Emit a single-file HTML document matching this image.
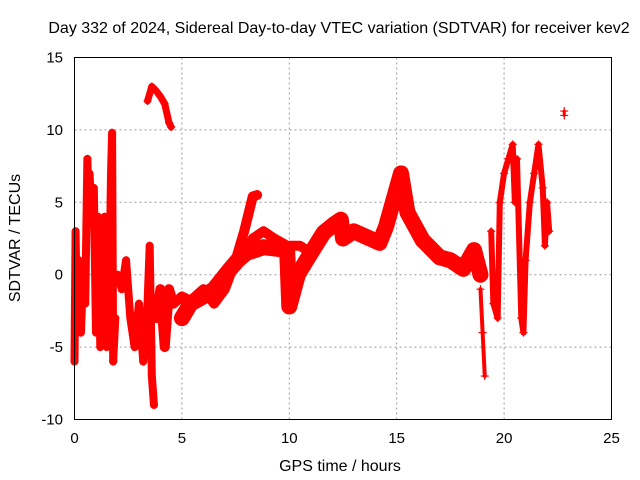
<!DOCTYPE html>
<html><head><meta charset="utf-8"><style>
body{margin:0;background:#fff;}
svg{display:block;font-family:"Liberation Sans",sans-serif;}
</style></head><body>
<svg id="chart" width="640" height="480" viewBox="0 0 640 480">
<rect width="640" height="480" fill="#fff"/>
<text x="339" y="33" font-size="16" text-anchor="middle" fill="#000">Day 332 of 2024, Sidereal Day-to-day VTEC variation (SDTVAR) for receiver kev2</text>
<text transform="translate(20,238) rotate(-90)" font-size="16" text-anchor="middle">SDTVAR / TECUs</text>
<text x="340" y="471" font-size="16" text-anchor="middle">GPS time / hours</text>
<g id="grid"></g><g id="ticks"></g><g id="marks"></g>
<rect x="74.5" y="57.5" width="537" height="362" fill="none" stroke="#000" stroke-width="1"/>
</svg>
<script>
const xTicks=[0,5,10,15,20,25];
const yTicks=[-10,-5,0,5,10,15];
const segTimes=[
[0,0.05,0.1,0.15,0.2,0.3,0.4,0.5,0.6,0.65,0.7,0.8,0.9,1.0,1.1,1.2,1.3,1.4,1.5,1.6,1.7,1.75,1.8,1.9],
[2.0,2.2,2.4,2.6,2.8,3.0,3.2,3.4,3.5,3.6,3.7],
[3.4,3.6,3.8,4.0,4.2,4.4,4.5],
[3.8,4.0,4.2,4.4,4.6,5.0,5.4,6.0,6.5,7.0,7.5,7.9,8.3,8.5],
[5,5.4,6,6.5,7.2,7.6,8,8.8,9.4,9.9,10.0,10.4,10.8,11.6,12.1,12.4,12.5,13.0,13.6,14.2,14.5,15.2,15.5,16.2,17.0,17.5,18.1,18.6,18.9],
[7.8,8.3,8.8,9.3,9.9,10.5,11],
[18.9,19.0,19.1],
[19.4,19.5,19.7,19.8,20,20.2,20.4,20.5,20.6,20.8,20.9,21,21.2,21.4,21.6,21.8,21.9,22.0,22.1],
[22.8,22.8]
];
const segValues=[
[-6,3,-2,-4,1,-4,0,-2,8,5,7,4,6,-4,4,-5,-3,4,-5,-3,7,9.8,-6,-3],
[0,-1,1,-3,-5,-2,-6,-2,2,-7,-9],
[12,13,12.7,12.3,11.8,10.5,10.2],
[-3,-1,-5,-1,-2,-1.5,-1.8,-1,-2,-1,1,3,5.4,5.5],
[-3,-2,-1.5,-1,0.3,1,1.5,1.9,1.8,1.7,-2.2,0,1.0,2.9,3.5,3.8,2.5,3,2.6,2.2,3.3,7.0,4.3,2.4,1.2,1.0,0.4,1.7,0],
[1,2.5,3,2.5,2,2,1.5],
[-1,-4,-7],
[3,-2,-3,5,7,8,9,5,8,-3,-4,1,5,7,9,6,2,5,3],
[11.3,11]
];
const segWidths=[8,8,7,10,16,10,4,6,3];
const X=t=>74.5+t/25*537, Y=v=>419.5-(v+10)/25*362;
const NS="http://www.w3.org/2000/svg";
const mk=(tag,attrs,parent)=>{const e=document.createElementNS(NS,tag);for(const k in attrs)e.setAttribute(k,attrs[k]);parent.appendChild(e);return e;};
const grid=document.getElementById('grid'),ticks=document.getElementById('ticks'),marks=document.getElementById('marks');
xTicks.forEach(t=>{
 if(t>0&&t<25){const g=mk('line',{x1:X(t),x2:X(t),y1:57.5,y2:419.5,stroke:'#999','stroke-dasharray':'2,3'},grid);
 
 }
 const l=mk('text',{x:X(t),y:443,'font-size':15,'text-anchor':'middle'},ticks);l.textContent=t;
 
 
});
yTicks.forEach(v=>{
 if(v>-10&&v<15){const g=mk('line',{x1:74.5,x2:611.5,y1:Y(v),y2:Y(v),stroke:'#999','stroke-dasharray':'2,3'},grid);
 
 }
 const l=mk('text',{x:63,y:Y(v)+5,'font-size':15,'text-anchor':'end'},ticks);l.textContent=v;
 
 
});
segTimes.forEach((ts,i)=>{
 const vs=segValues[i];
 const pl=mk('polyline',{points:ts.map((t,j)=>X(t)+','+Y(vs[j])).join(' '),fill:'none',stroke:'#f00','stroke-width':segWidths[i],'stroke-linejoin':'round','stroke-linecap':'round'},marks);
 
 
 ts.forEach((t,j)=>{
  const x=X(t),y=Y(vs[j]);
  const p=mk('path',{d:`M${x-4},${y}H${x+4}M${x},${y-4}V${y+4}`,stroke:'#f00','stroke-width':1.2},marks);
  
  
 });
});
</script>
</body></html>
